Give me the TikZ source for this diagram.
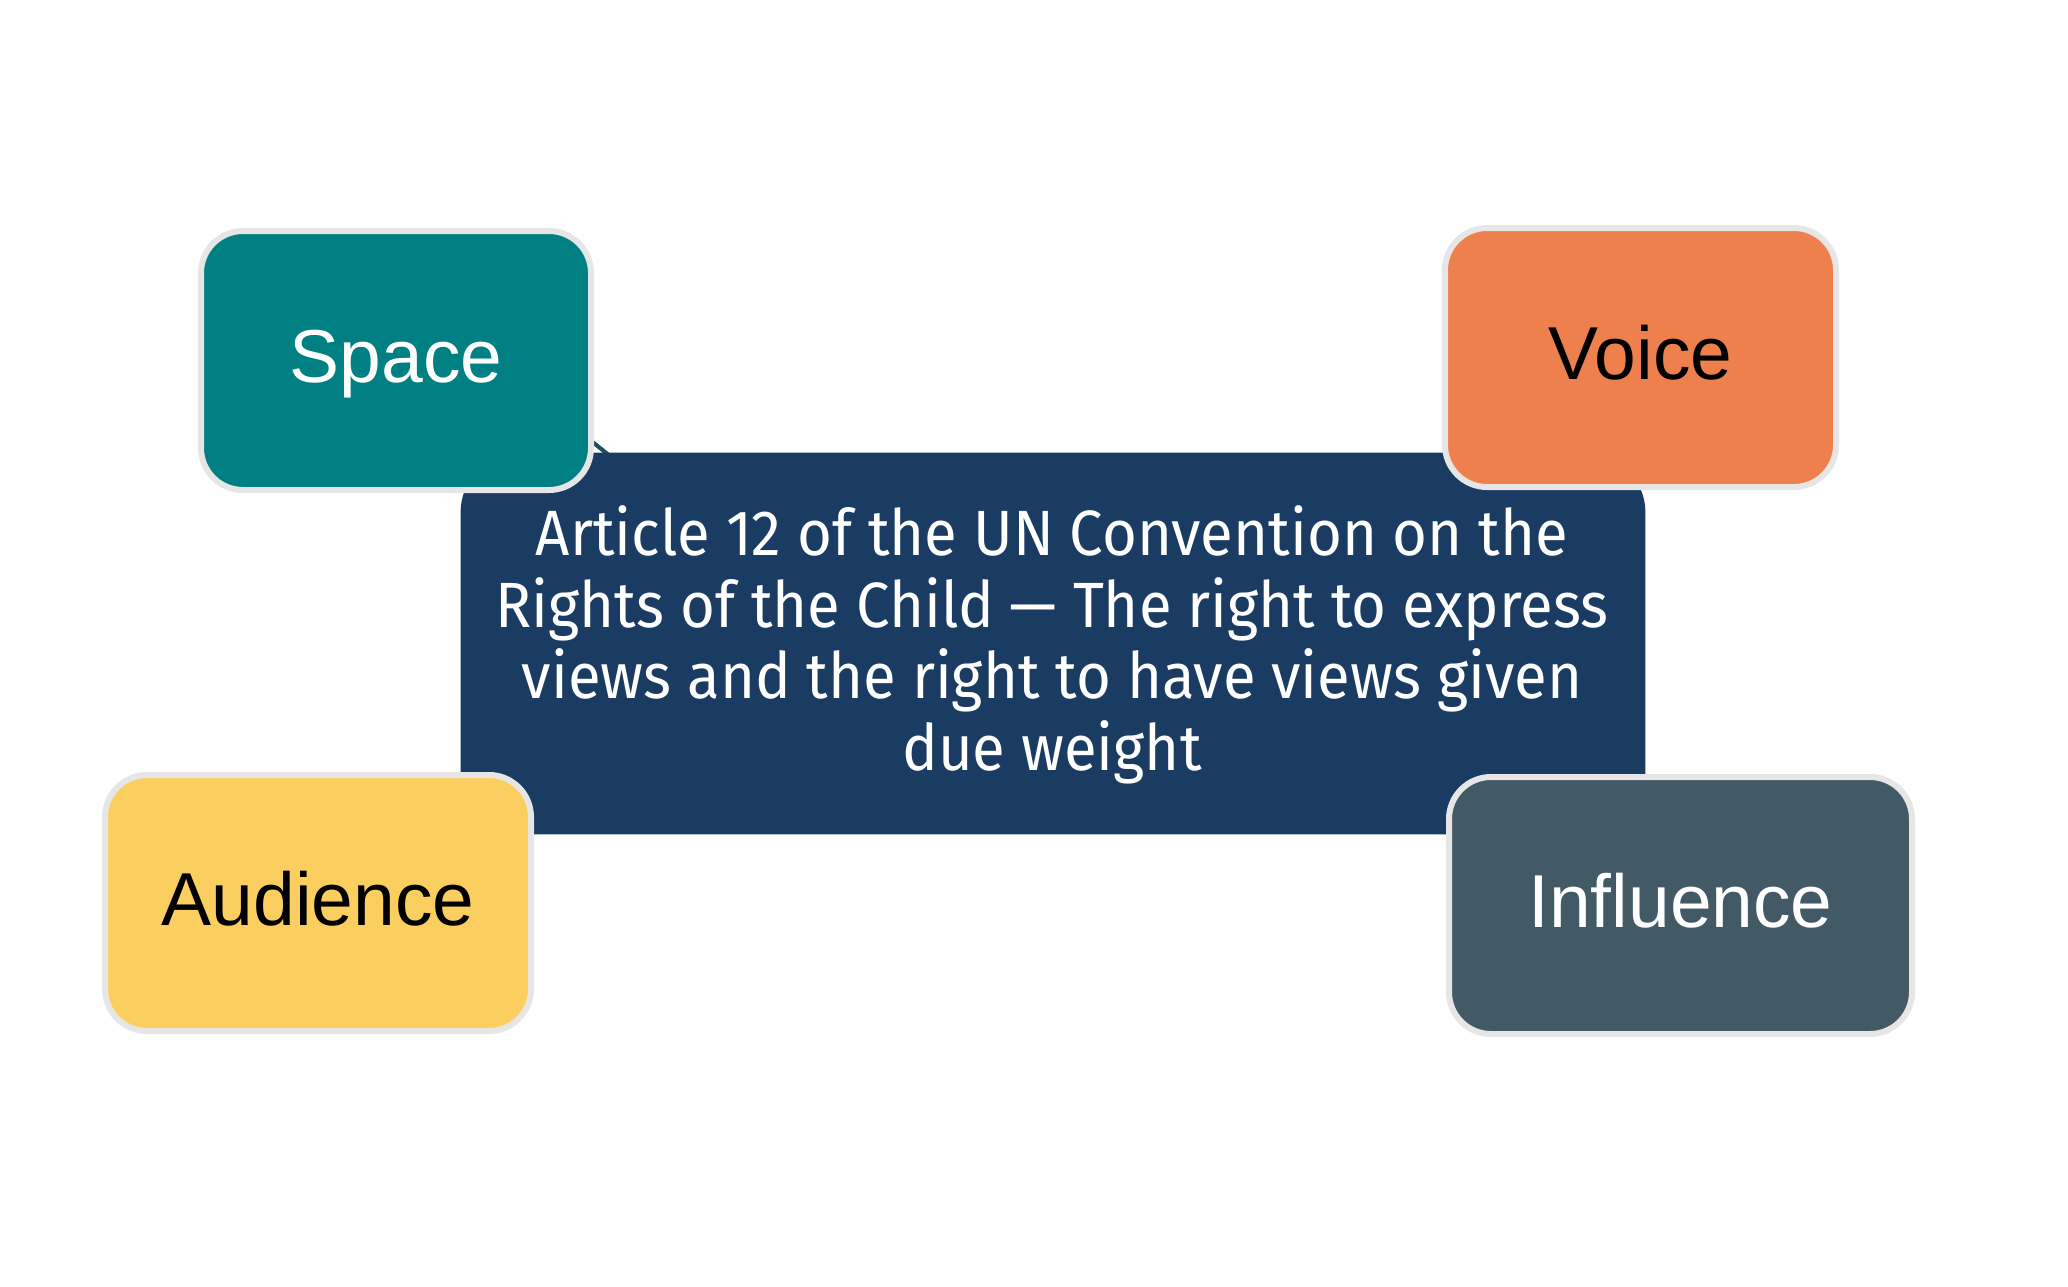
\documentclass[tikz,border=0pt]{standalone}
\usepackage{fontspec}
\setmainfont{Liberation Sans}
\newfontfamily\artfont[FakeStretch=0.935]{Fira Sans}
\definecolor{tealbox}{HTML}{008083}
\definecolor{orangebox}{HTML}{EE804D}
\definecolor{yellowbox}{HTML}{FBCE60}
\definecolor{slatebox}{HTML}{425966}
\definecolor{navybox}{HTML}{1A3C62}
\definecolor{edgegray}{HTML}{E6E6E6}
\definecolor{tipcolor}{HTML}{1D4F63}
\begin{document}
\begin{tikzpicture}[x=0.5pt,y=-0.5pt]
\tikzset{
  tile/.style={rectangle, rounded corners=21pt, draw=edgegray, line width=3pt,
    text height=26pt, text depth=4pt, inner sep=0pt,
    font=\fontsize{37.5}{40}\selectfont},
  arttext/.style={anchor=base, inner sep=0pt, text=white,
    font=\artfont\fontsize{32}{36}\selectfont},
  tipline/.style={draw=tipcolor, line width=2pt}
}
\fill[white] (0,0) rectangle (2068,1286);
\useasboundingbox (0,0) rectangle (2068,1286);

% hidden connector fragment
\coordinate (tA) at (560,416);
\coordinate (tB) at (640,480);
\draw[tipline] (tA) -- (tB);

% central box
\node[inner sep=0pt, minimum width=592pt, minimum height=190.5pt] (art) at (1053,643.5) {};
\fill[navybox, rounded corners=30pt] (art.south west) rectangle (art.north east);
\fill[navybox] (art.south west) rectangle (art.east);

\node[arttext] (l1) at (1052,555) {Article 12 of the UN Convention on the};
\node[arttext] (l2) at (1052,627) {Rights of the Child — The right to express};
\node[arttext] (l3) at (1052,698) {views and the right to have views given};
\node[arttext] (l4) at (1052,770) {due weight};

% corner tiles
\node[tile, fill=tealbox, text=white, minimum width=195pt, minimum height=129.5pt] (space) at (396,360.5) {Space};
\node[tile, fill=orangebox, text=black, minimum width=195.5pt, minimum height=129.5pt] (voice) at (1640.5,357.5) {Voice};
\node[tile, fill=yellowbox, text=black, minimum width=213pt, minimum height=128pt] (aud) at (318,903) {Audience};
\node[tile, fill=slatebox, text=white, minimum width=231.5pt, minimum height=128.5pt] (infl) at (1680.5,905.5) {Influence};
\end{tikzpicture}
\end{document}
